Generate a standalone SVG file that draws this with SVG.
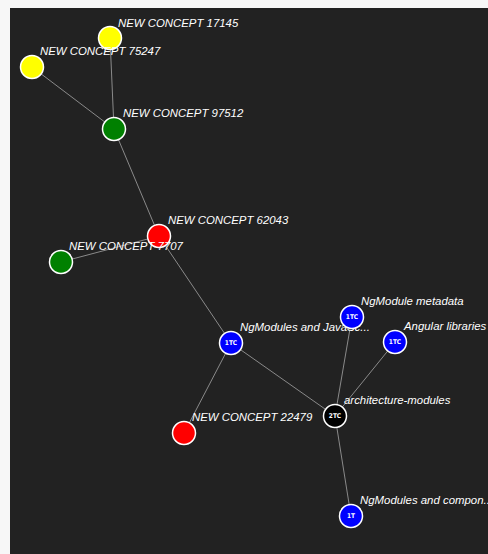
<svg xmlns="http://www.w3.org/2000/svg" width="488" height="554" viewBox="0 0 488 554">
  <style>
    .edge { stroke: #8a8a8a; stroke-width: 1; fill: none; }
    .node circle { stroke: #ffffff; stroke-width: 1.5; }
    .label { font-family: "Liberation Sans", Arial, sans-serif; font-size: 11.4px; font-style: italic; fill: #ffffff; }
    .badge { font-family: "DejaVu Sans Condensed", "Liberation Sans Narrow", sans-serif; font-size: 6.5px; font-weight: bold; fill: #ffffff; text-anchor: middle; }
  </style>
  <rect x="0" y="0" width="488" height="554" fill="#f7f7f7"/>
  <rect x="10" y="8" width="478" height="546" fill="#222222"/>

  <g id="connectors">
    <line class="edge" x1="110" y1="38" x2="114" y2="129"/>
    <line class="edge" x1="32" y1="67" x2="114" y2="129"/>
    <line class="edge" x1="114" y1="129" x2="159" y2="236"/>
    <line class="edge" x1="159" y1="236" x2="61" y2="262"/>
    <line class="edge" x1="159" y1="236" x2="231" y2="343"/>
    <line class="edge" x1="231" y1="343" x2="184" y2="433"/>
    <line class="edge" x1="231" y1="343" x2="335" y2="416"/>
    <line class="edge" x1="335" y1="416" x2="352" y2="317"/>
    <line class="edge" x1="335" y1="416" x2="395" y2="342"/>
    <line class="edge" x1="335" y1="416" x2="351" y2="516"/>
  </g>

  <g id="n17145" class="node">
    <circle cx="110" cy="38" r="11.5" fill="#ffff00"/>
    <text class="label" x="118" y="27">NEW CONCEPT 17145</text>
  </g>
  <g id="n75247" class="node">
    <circle cx="32" cy="67" r="11.5" fill="#ffff00"/>
    <text class="label" x="40" y="55">NEW CONCEPT 75247</text>
  </g>
  <g id="n97512" class="node">
    <circle cx="114" cy="129" r="11.5" fill="#008000"/>
    <text class="label" x="123" y="117">NEW CONCEPT 97512</text>
  </g>
  <g id="n62043" class="node">
    <circle cx="159" cy="236" r="11.5" fill="#ff0000"/>
    <text class="label" x="168" y="224">NEW CONCEPT 62043</text>
  </g>
  <g id="n7707" class="node">
    <circle cx="61" cy="262" r="11.5" fill="#008000"/>
    <text class="label" x="69" y="250">NEW CONCEPT 7707</text>
  </g>
  <g id="ngmodules-js" class="node">
    <circle cx="231" cy="343" r="11.5" fill="#0000ff"/>
    <text class="badge" x="231" y="345.3">1TC</text>
    <text class="label" x="240" y="331">NgModules and JavaSc...</text>
  </g>
  <g id="n22479" class="node">
    <circle cx="184" cy="433" r="11.5" fill="#ff0000"/>
    <text class="label" x="192" y="421">NEW CONCEPT 22479</text>
  </g>
  <g id="ngmodule-metadata" class="node">
    <circle cx="352" cy="317" r="11.5" fill="#0000ff"/>
    <text class="badge" x="352" y="319.3">1TC</text>
    <text class="label" x="361" y="305">NgModule metadata</text>
  </g>
  <g id="angular-libraries" class="node">
    <circle cx="395" cy="342" r="11.5" fill="#0000ff"/>
    <text class="badge" x="395" y="344.3">1TC</text>
    <text class="label" x="404" y="330">Angular libraries</text>
  </g>
  <g id="architecture-modules" class="node">
    <circle cx="335" cy="416" r="11.5" fill="#000000"/>
    <text class="badge" x="335" y="418.3">2TC</text>
    <text class="label" x="344" y="404">architecture-modules</text>
  </g>
  <g id="ngmodules-components" class="node">
    <circle cx="351" cy="516" r="11.5" fill="#0000ff"/>
    <text class="badge" x="351" y="518.3">1T</text>
    <text class="label" x="360" y="504">NgModules and compon..</text>
  </g>
</svg>
